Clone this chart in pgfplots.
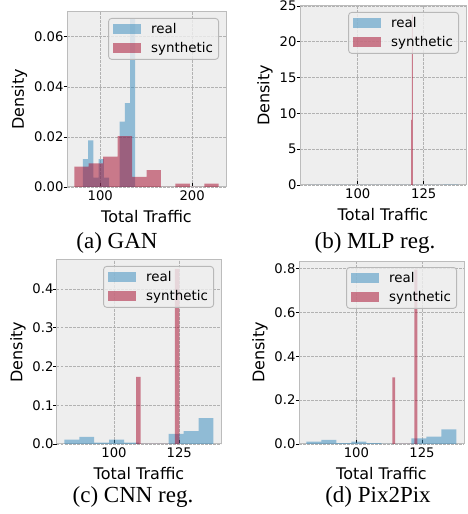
\documentclass[border=0pt]{standalone}
\usepackage{fontspec}
\setmainfont{DejaVu Sans}
\newfontfamily\capfont{Liberation Serif}
\usepackage{pgfplots}
\pgfplotsset{compat=1.18}

\definecolor{bmhblue}{HTML}{348ABD}
\definecolor{bmhred}{HTML}{A60628}
\definecolor{bgray}{HTML}{EEEEEE}
\definecolor{gridgray}{HTML}{B2B2B2}
\definecolor{framegray}{HTML}{BCBCBC}
\definecolor{legedge}{HTML}{B8B8B8}

\pgfplotsset{
  histax/.style={
    scale only axis, anchor=south west,
    axis background/.style={fill=bgray},
    axis line style={framegray, line width=1pt},
    grid=major,
    major grid style={gridgray, line width=0.6pt, dash pattern=on 2.5pt off 1.5pt},
    tick pos=left, tick align=inside, major tick length=3.5pt,
    tick style={black, line width=0.8pt},
    y tick style={xshift=-3.5pt},
    tick label style={font=\fontsize{13.2}{15}\selectfont},
    label style={font=\fontsize{16}{18}\selectfont},
    xlabel style={yshift=-3pt},
    xlabel={Total Traffic}, ylabel={Density},
    ymin=0, scaled y ticks=false,
    /pgf/number format/assume math mode=true,
    legend cell align=left,
    legend style={at={(1,1)}, anchor=north east, xshift=-7pt, yshift=-6pt,
      fill=bgray, fill opacity=0.8, text opacity=1, draw=legedge, draw opacity=1,
      line width=0.9pt, rounded corners=3pt, font=\fontsize{13.4}{16}\selectfont,
      inner xsep=4.6pt, inner ysep=4pt, row sep=5.5pt,
      nodes={inner sep=1pt},
      /tikz/every odd column/.append style={column sep=9pt}},
  },
  realbar/.style={ybar interval, fill=bmhblue, fill opacity=0.5, draw=none,
    legend image code/.code={\fill[bmhblue, fill opacity=0.5, sharp corners] (0pt,-5pt) rectangle (28pt,5pt);}},
  synbar/.style={ybar interval, fill=bmhred, fill opacity=0.5, draw=none,
    legend image code/.code={\fill[bmhred, fill opacity=0.5, sharp corners] (0pt,-5pt) rectangle (28pt,5pt);}},
}

% real traffic histogram (same in all panels)
\pgfplotstableread{
x y
81.00 0.01118
86.71 0.01863
92.42 0.00373
98.13 0.01118
103.84 0.00373
109.55 0
115.26 0
120.97 0.02608
126.68 0.03353
132.39 0.06707
138.10 0
}\realdata

\begin{document}
\begin{tikzpicture}
\useasboundingbox (0,0) rectangle (467pt,514pt);

% (a) GAN
\begin{axis}[histax, at={(67pt,327pt)}, width=159pt, height=175pt,
  xmin=63.8, xmax=236.9, ymax=0.0699,
  xtick={100,200}, ytick={0,0.02,0.04,0.06},
  yticklabel style={/pgf/number format/.cd, fixed, fixed zerofill, precision=2}]
\addplot[realbar] table {\realdata};
\addplot[synbar] coordinates {(71.70,0.00811) (87.43,0.00946) (103.16,0.01217)
  (118.89,0.02028) (134.62,0.00406) (150.35,0.00676) (166.08,0) (181.81,0.00135)
  (197.54,0) (213.27,0.00135) (229.00,0)};
\legend{real,synthetic}
\end{axis}

% (b) MLP reg.
\begin{axis}[histax, at={(300pt,329pt)}, width=166pt, height=179pt,
  xmin=78.15, xmax=141.0, ymax=25,
  xtick={100,125}, ytick={0,5,10,15,20,25}]
\addplot[realbar] table {\realdata};
\addplot[synbar] coordinates {(120.20,9.1) (120.55,23.8) (120.90,0)};
\legend{real,synthetic}
\end{axis}

% (c) CNN reg.
\begin{axis}[histax, at={(57pt,70pt)}, width=164pt, height=184pt,
  xmin=78.15, xmax=141.0, ymax=0.4747,
  xtick={100,125}, ytick={0,0.1,0.2,0.3,0.4},
  yticklabel style={/pgf/number format/.cd, fixed, fixed zerofill, precision=1}]
\addplot[realbar] table {\realdata};
\addplot[synbar] coordinates {(108.5,0.1729) (110.2,0) (123.3,0.4521) (125.0,0)};
\legend{real,synthetic}
\end{axis}

% (d) Pix2Pix
\begin{axis}[histax, at={(299pt,70pt)}, width=165pt, height=183pt,
  xmin=78.15, xmax=141.0, ymax=0.8337,
  xtick={100,125}, ytick={0,0.2,0.4,0.6,0.8},
  yticklabel style={/pgf/number format/.cd, fixed, fixed zerofill, precision=1}]
\addplot[realbar] table {\realdata};
\addplot[synbar] coordinates {(113.7,0.304) (114.8,0) (122.1,0.794) (123.2,0)};
\legend{real,synthetic}
\end{axis}

\begin{scope}[every node/.style={anchor=base, font=\capfont\fontsize{23}{26}\selectfont}]
\node at (117pt,265.5pt) {(a) GAN};
\node at (375pt,265pt) {(b) MLP reg.};
\node at (133pt,11pt) {(c) CNN reg.};
\node at (378pt,11pt) {(d) Pix2Pix};
\end{scope}
\end{tikzpicture}
\end{document}
